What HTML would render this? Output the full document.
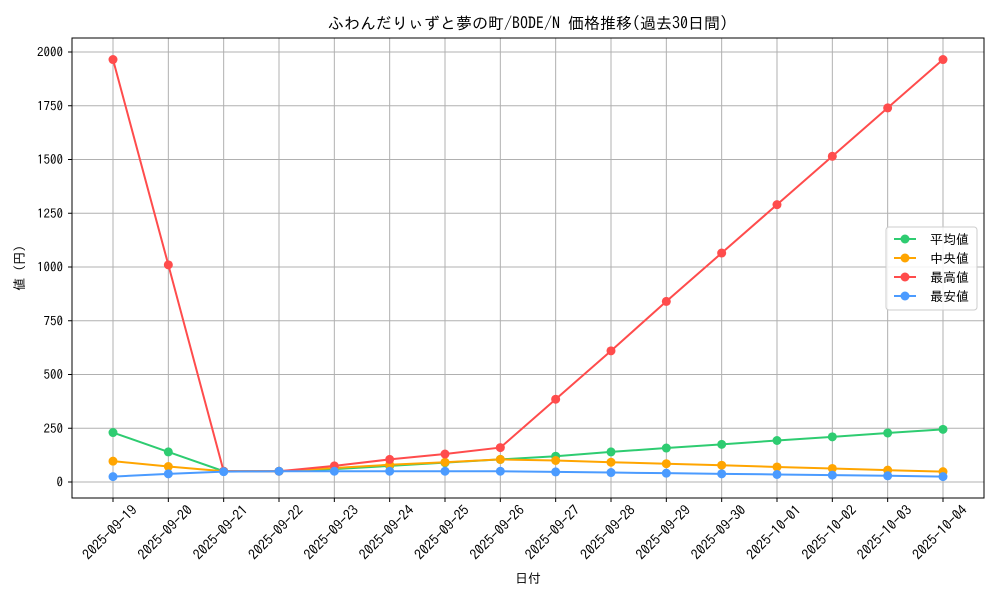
<!DOCTYPE html>
<html><head><meta charset="utf-8"><style>
body{margin:0;background:#fff}
svg text{font-family:"IPAGothic","Noto Sans CJK JP",sans-serif;fill:#000}
</style></head><body>
<svg id="s" width="1000" height="600" xmlns="http://www.w3.org/2000/svg">
<rect width="1000" height="600" fill="#fff"/>
<g id="grid" stroke="#b0b0b0" stroke-width="1"></g>
<g id="series"></g>
<rect x="72" y="38" width="912" height="460" fill="none" stroke="#000" stroke-width="1"/>
<g id="labels" font-size="13"></g>
<text x="528" y="29" font-size="16" text-anchor="middle">ふわんだりぃずと夢の町/BODE/N 価格推移(過去30日間)</text>
<text x="528" y="583" font-size="13" text-anchor="middle">日付</text>
<text transform="translate(24,268) rotate(-90)" font-size="13" text-anchor="middle">値 (円)</text>
<g transform="translate(886,227)">
<rect x="0" y="0" width="91" height="83" fill="#fff" fill-opacity="0.85" stroke="#ccc" rx="3"/>
<line x1="8" x2="30" y1="12" y2="12" stroke="#2ecc71" stroke-width="2"/><circle cx="19" cy="12" r="4.5" fill="#2ecc71"/><text x="44" y="17" font-size="13">平均値</text>
<line x1="8" x2="30" y1="31" y2="31" stroke="#ffa500" stroke-width="2"/><circle cx="19" cy="31" r="4.5" fill="#ffa500"/><text x="44" y="36" font-size="13">中央値</text>
<line x1="8" x2="30" y1="50" y2="50" stroke="#ff4c4c" stroke-width="2"/><circle cx="19" cy="50" r="4.5" fill="#ff4c4c"/><text x="44" y="55" font-size="13">最高値</text>
<line x1="8" x2="30" y1="69" y2="69" stroke="#4b9bff" stroke-width="2"/><circle cx="19" cy="69" r="4.5" fill="#4b9bff"/><text x="44" y="74" font-size="13">最安値</text>
</g>
</svg>
<script>
var NS="http://www.w3.org/2000/svg";
function el(p,t,a,txt){var e=document.createElementNS(NS,t);for(var k in a)e.setAttribute(k,a[k]);if(txt!=null)e.textContent=txt;p.appendChild(e);return e;}
var g=document.getElementById('grid'),L=document.getElementById('labels'),S=document.getElementById('series');
function X(i){return 113+i*55.333;}function Y(v){return 482-v*0.215;}
var dates=["2025-09-19","2025-09-20","2025-09-21","2025-09-22","2025-09-23","2025-09-24","2025-09-25","2025-09-26","2025-09-27","2025-09-28","2025-09-29","2025-09-30","2025-10-01","2025-10-02","2025-10-03","2025-10-04"];
dates.forEach(function(d,i){var x=X(i);el(g,'line',{x1:x,x2:x,y1:38,y2:498});el(L,'line',{x1:x,x2:x,y1:498,y2:502,stroke:'#000'});
el(L,'text',{transform:'translate('+(x+25)+',511) rotate(-45)','text-anchor':'end','font-size':'14'},d);});
[0,250,500,750,1000,1250,1500,1750,2000].forEach(function(v){var y=Y(v);el(g,'line',{x1:72,x2:984,y1:y,y2:y});el(L,'line',{x1:68,x2:72,y1:y,y2:y,stroke:'#000'});
el(L,'text',{x:63,y:y+4.5,'text-anchor':'end'},String(v));});
var data=[
["#2ecc71",[230,140,50,50,60,75,90,105,120,140,158,175,193,210,228,245]],
["#ffa500",[97,72,50,50,65,80,92,105,100,92,85,78,70,63,55,48]],
["#ff4c4c",[1965,1010,50,50,75,105,130,160,385,610,840,1065,1290,1515,1740,1965]],
["#4b9bff",[25,38,48,50,50,50,50,50,47,44,41,38,35,32,29,25]]];
data.forEach(function(s){var pts=s[1].map(function(v,i){return X(i)+','+Y(v);}).join(' ');
el(S,'polyline',{points:pts,fill:'none',stroke:s[0],'stroke-width':2});
s[1].forEach(function(v,i){el(S,'circle',{cx:X(i),cy:Y(v),r:4.5,fill:s[0]});});});
</script>
</body></html>
